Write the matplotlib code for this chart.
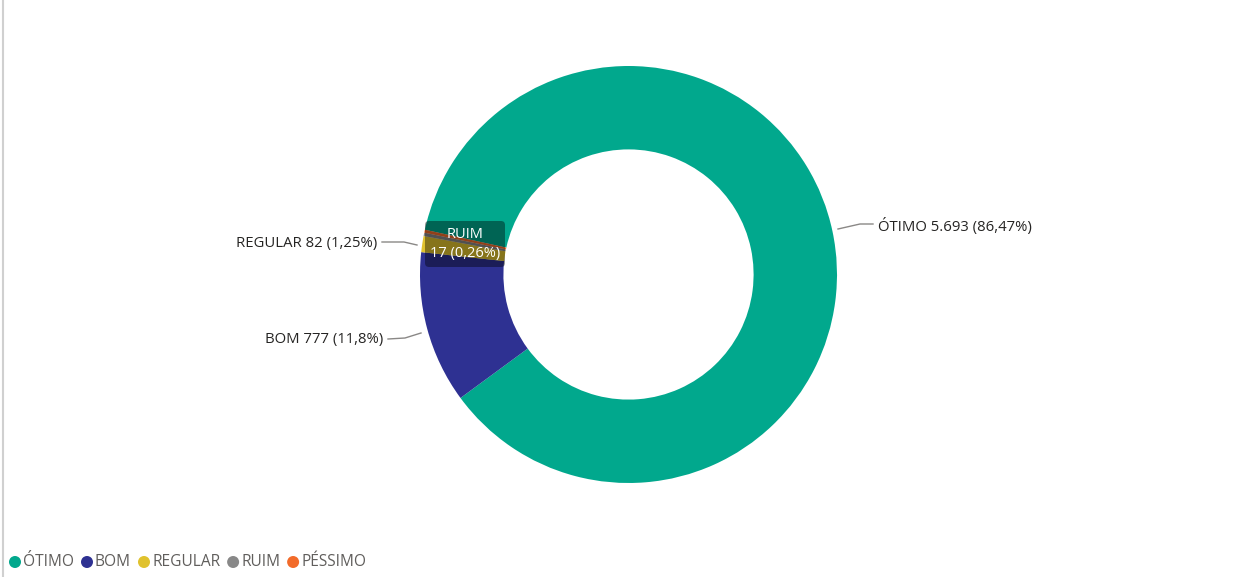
import matplotlib.pyplot as plt
from matplotlib.patches import FancyBboxPatch, Circle
from matplotlib.lines import Line2D

categories = ['ÓTIMO', 'BOM', 'REGULAR', 'RUIM', 'PÉSSIMO']
values = [5693, 777, 82, 17, 15]
colors = ['#01A88D', '#2E3192', '#E0C22E', '#888888', '#F26B2A']

W, H = 1246, 577


def fmt_num(v):
    return f"{v:,}".replace(',', '.')


def fmt_pct(v, total):
    p = f"{100 * v / total:.2f}".rstrip('0').rstrip('.')
    return p.replace('.', ',') + '%'


def py(y):
    # pixel row (from top) -> data y
    return H - y


total = sum(values)

plt.rcParams['font.family'] = ['Open Sans', 'DejaVu Sans']
fig = plt.figure(figsize=(W / 100, H / 100), dpi=100)
ax = fig.add_axes([0, 0, 1, 1])

cx, cy, R = 628.5, py(274.5), 208.5
ax.pie(values, colors=colors, startangle=167.6, counterclock=False,
       center=(cx, cy), radius=R, wedgeprops=dict(width=R * 0.4, linewidth=0),
       frame=True)
ax.set_xlim(0, W)
ax.set_ylim(0, H)
ax.set_aspect('equal')
ax.axis('off')

# data labels with leader lines
lbl_color = '#252423'
line_color = '#8a8886'
labels = {
    'ÓTIMO': dict(xy=(878, 227), ha='left', line=[(838, 229), (860, 224), (873, 224)]),
    'REGULAR': dict(xy=(377, 244), ha='right', line=[(382, 242), (404, 242), (417, 245)]),
    'BOM': dict(xy=(383, 340), ha='right', line=[(388, 339), (405, 338), (421, 333)]),
}
for i, name in enumerate(categories):
    if name not in labels:
        continue
    spec = labels[name]
    txt = f"{name} {fmt_num(values[i])} ({fmt_pct(values[i], total)})"
    ax.text(spec['xy'][0], py(spec['xy'][1]), txt, ha=spec['ha'], va='center',
            fontsize=10.7, color=lbl_color)
    xs = [p[0] for p in spec['line']]
    ys = [py(p[1]) for p in spec['line']]
    ax.add_line(Line2D(xs, ys, color=line_color, lw=1))

# hover tooltip over RUIM
tip = FancyBboxPatch((425, py(267)), 80, 46, boxstyle='round,pad=0,rounding_size=4',
                     facecolor='black', alpha=0.4, edgecolor='none', zorder=5)
ax.add_patch(tip)
ri = categories.index('RUIM')
ax.text(465, py(235), 'RUIM', ha='center', va='center', color='white', fontsize=10.5, zorder=6)
ax.text(465, py(254), f"{values[ri]} ({fmt_pct(values[ri], total)})", ha='center',
        va='center', color='white', fontsize=10.5, zorder=6)

# legend at bottom left
x = 9
for name, c in zip(categories, colors):
    ax.add_patch(Circle((x + 6, py(562)), 6, color=c, lw=0))
    t = ax.text(x + 14, py(562), name, ha='left', va='center', fontsize=11.2,
                color='#605E5C')
    fig.canvas.draw()
    bb = t.get_window_extent()
    x = bb.x1 + 7

# left border
ax.add_line(Line2D([3, 3], [0, H], color='#d0d0d0', lw=1.5))

fig.savefig('out.png', dpi=100)
